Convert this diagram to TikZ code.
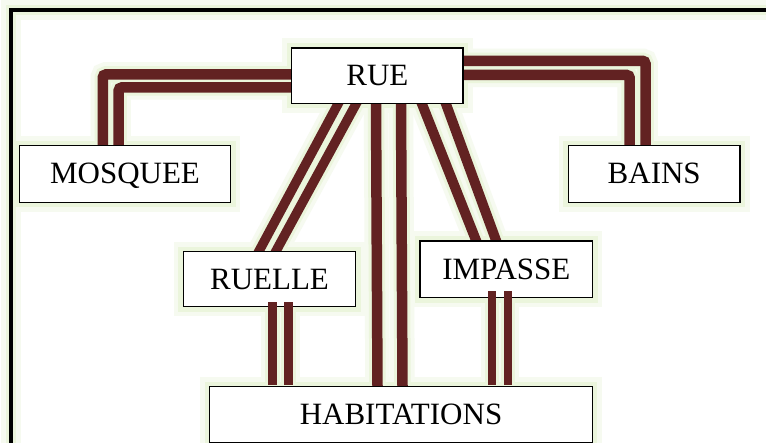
\documentclass[tikz,border=0pt]{standalone}
\usepackage{fontspec}
\setmainfont{Liberation Serif}
\usetikzlibrary{calc}
\definecolor{brn}{RGB}{98,34,34}
\definecolor{glowA}{RGB}{246,250,240}
\definecolor{glowB}{RGB}{235,245,220}
\pgfdeclarelayer{bglayer}
\pgfdeclarelayer{glowouter}
\pgfdeclarelayer{glowinner}
\pgfdeclarelayer{linelayer}
\pgfdeclarelayer{toplayer}
\pgfsetlayers{bglayer,glowouter,glowinner,linelayer,main,toplayer}
\tikzset{
  box/.style={draw=black, line width=1.3pt, fill=white, inner sep=0pt,
    text height=20pt, text depth=0pt, font=\fontsize{31}{31}\selectfont},
  framebox/.style={draw=black, line width=4pt},
}
% #1 layer, #2 width, #3 extra options, #4 path
\newcommand\conn[4]{%
  \begin{pgfonlayer}{glowouter}\draw[draw=glowA, line width={#2+14pt}, #3] #4;\end{pgfonlayer}
  \begin{pgfonlayer}{glowinner}\draw[draw=glowB, line width={#2+6pt}, #3] #4;\end{pgfonlayer}
  \begin{pgfonlayer}{#1}\draw[draw=brn, line width=#2, #3] #4;\end{pgfonlayer}}
\begin{document}
\begin{tikzpicture}[x=1pt, y=-1pt]
\useasboundingbox (0,0) rectangle (766,443);
\begin{pgfonlayer}{bglayer}\fill[white] (0,0) rectangle (766,443);\end{pgfonlayer}
% outer frame
\coordinate (f1) at (11,10.3);
\coordinate (f2) at (778,456);
\begin{pgfonlayer}{glowouter}\draw[glowA, line width=20pt] (f1) rectangle (f2);\end{pgfonlayer}
\begin{pgfonlayer}{glowinner}\draw[glowB, line width=10pt] (f1) rectangle (f2);\end{pgfonlayer}
\draw[framebox] (f1) rectangle (f2);
% boxes
\node[box, minimum width=171.3pt, minimum height=55.3pt] (rue) at (377.4,75.7) {RUE};
\node[box, minimum width=211.4pt, minimum height=56.6pt] (mos) at (125,174) {MOSQUEE};
\node[box, minimum width=171.7pt, minimum height=56.6pt] (bains) at (654.2,174) {BAINS};
\node[box, minimum width=172.4pt, minimum height=55pt] (ruelle) at (269.5,279.2) {RUELLE};
\node[box, minimum width=172.7pt, minimum height=56.7pt] (impasse) at (506.3,269.3) {IMPASSE};
\node[box, minimum width=382.6pt, minimum height=55.6pt] (hab) at (401,414.5) {HABITATIONS};
\foreach \n in {rue,mos,bains,ruelle,impasse,hab}{
  \begin{pgfonlayer}{glowouter}\draw[glowA, line width=18pt] (\n.south west) rectangle (\n.north east);\end{pgfonlayer}
  \begin{pgfonlayer}{glowinner}\draw[glowB, line width=9pt] (\n.south west) rectangle (\n.north east);\end{pgfonlayer}
}
% RUE - MOSQUEE
\conn{linelayer}{10.5pt}{rounded corners=3pt}{($(rue.west)+(6,-1.2)$) -| ($(mos.north)+(-22.2,3)$)}
\conn{linelayer}{10.5pt}{rounded corners=3pt}{($(rue.west)+(6,11.8)$) -| ($(mos.north)+(-6.3,3)$)}
% RUE - BAINS
\conn{linelayer}{10.5pt}{rounded corners=3pt}{($(rue.east)+(-6,-14.9)$) -| ($(bains.north)+(-8.7,3)$)}
\conn{linelayer}{10.5pt}{rounded corners=3pt}{($(rue.east)+(-6,-0.7)$) -| ($(bains.north)+(-24.5,3)$)}
% RUE - RUELLE
\conn{linelayer}{9.5pt}{shorten <=-6pt, shorten >=-6pt}{($(rue.south)+(-39.4,0)$) -- ($(ruelle.north)+(-10.5,0)$)}
\conn{linelayer}{9.5pt}{shorten <=-6pt, shorten >=-6pt}{($(rue.south)+(-21.4,0)$) -- ($(ruelle.north)+(6.5,0)$)}
% RUE - HABITATIONS
\conn{linelayer}{10.5pt}{shorten <=-6pt, shorten >=-6pt}{($(rue.south)+(-1.4,0)$) -- ($(hab.north)+(-23.5,0)$)}
\conn{linelayer}{10.5pt}{shorten <=-6pt, shorten >=-6pt}{($(rue.south)+(23.6,0)$) -- ($(hab.north)+(1.5,0)$)}
% RUE - IMPASSE
\conn{linelayer}{10pt}{shorten <=-6pt, shorten >=-6pt}{($(rue.south)+(44.6,0)$) -- ($(impasse.north)+(-30.3,0)$)}
\conn{linelayer}{10pt}{shorten <=-6pt, shorten >=-6pt}{($(rue.south)+(68.6,0)$) -- ($(impasse.north)+(-10.3,0)$)}
% RUELLE - HABITATIONS
\conn{toplayer}{8.3pt}{}{($(ruelle.south)+(3,-5)$) -- ($(hab.north)+(-128.5,-0.8)$)}
\conn{toplayer}{8.3pt}{}{($(ruelle.south)+(19,-5)$) -- ($(hab.north)+(-112.5,-0.8)$)}
% IMPASSE - HABITATIONS
\conn{toplayer}{8.3pt}{}{($(impasse.south)+(-14.3,-7)$) -- ($(hab.north)+(91,-0.8)$)}
\conn{toplayer}{8.3pt}{}{($(impasse.south)+(1.7,-7)$) -- ($(hab.north)+(107,-0.8)$)}
\end{tikzpicture}
\end{document}
